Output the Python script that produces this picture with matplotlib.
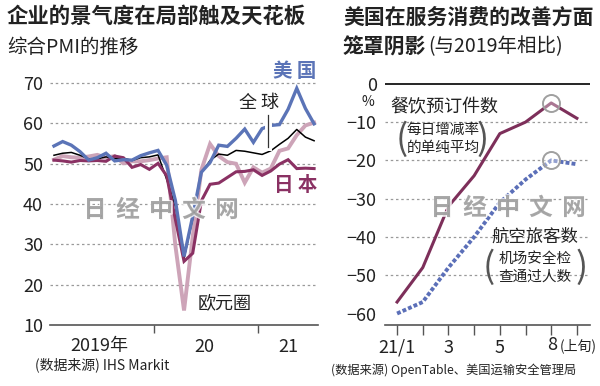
import matplotlib
matplotlib.use('Agg')
import matplotlib.pyplot as plt
import matplotlib.patheffects as pe

plt.rcParams['font.family'] = ['Noto Sans CJK SC', 'DejaVu Sans']

# ---- left chart: composite PMI, 2019/1 - 2021/7 (monthly) ----
months = list(range(31))
us = [54.4, 55.5, 54.6, 53.0, 50.9, 51.5, 52.6, 50.7, 51.0, 50.9, 52.0, 52.7,
      53.3, 49.6, 40.9, 27.0, 37.0, 47.9, 50.3, 54.6, 54.3, 56.3, 58.6, 55.3,
      58.7, 59.5, 59.7, 63.5, 68.7, 63.7, 59.9]
euro = [51.0, 51.9, 51.6, 51.5, 51.8, 52.2, 51.5, 51.9, 50.1, 50.6, 50.6, 50.9,
        51.3, 51.6, 29.7, 13.6, 31.9, 48.5, 54.9, 51.9, 50.4, 50.0, 45.3, 49.1,
        47.8, 48.8, 53.2, 53.8, 57.1, 59.5, 60.2]
japan = [50.9, 50.7, 50.4, 50.8, 50.7, 50.8, 50.6, 51.9, 51.5, 49.1, 49.8, 48.6,
         50.1, 47.0, 36.2, 25.8, 27.8, 40.8, 44.9, 45.2, 46.6, 48.0, 48.1, 48.5,
         47.1, 48.2, 49.9, 51.0, 48.8, 48.9, 48.8]
world = [52.1, 52.6, 52.8, 52.1, 51.2, 51.2, 51.7, 51.3, 51.4, 50.8, 51.5, 51.7,
         52.2, 46.1, 39.4, 26.5, 36.3, 47.7, 50.8, 52.4, 52.1, 53.3, 53.1, 52.7,
         52.3, 53.2, 54.8, 56.3, 58.5, 56.6, 55.7]
year_labels = ['2019年', '20', '21']
year_pos = [5.2, 17.3, 27.0]
year_ticks = [11.5, 23.5]
pmi_ticks = [10, 20, 30, 40, 50, 60, 70]

# ---- right chart: US services vs 2019 (%) ----
svc_months = list(range(8))
svc_labels = ['21/1', '', '3', '', '5', '', '', '']
restaurant = [-57, -48, -32, -24, -13, -10, -5, -9]
airline = [-60, -57, -48, -40, -31, -25, -20, -21]
svc_ticks = [0, -10, -20, -30, -40, -50, -60]

BLUE = '#5b74b7'
EURO = '#cda4b8'
JAPAN = '#8a3163'
PLUM = '#7d2f5a'
DOT = '#5b6fb8'
TXT = '#222222'
GRID = '#9a9a9a'

fig = plt.figure(figsize=(6, 3.86), dpi=100)

##############################################################################################
ax = fig.add_axes([50/600, 61/386, 268/600, 254/386])
ax.set_xlim(-0.46, 30.45)
ax.set_ylim(10, 73)
for v in pmi_ticks[1:]:
    ax.axhline(v, color=GRID, lw=0.9, ls=(0, (2, 2.2)), zorder=1)

ax.plot(months, euro, color=EURO, lw=2.8, zorder=2, solid_joinstyle='miter')
ax.plot(months, world, color='black', lw=1.1, zorder=3)
ax.plot(months, japan, color=JAPAN, lw=2.2, zorder=4, solid_joinstyle='miter')
ax.plot(months, us, color=BLUE, lw=2.4, zorder=5, solid_joinstyle='miter')

# leader line for "全球" with white halo
ax.plot([24.7, 24.7], [62.1, 54.2], color='#333333', lw=0.9, zorder=6,
        path_effects=[pe.withStroke(linewidth=5, foreground='white')])

ax.text(27.8, 72.8, '美 国', color=BLUE, fontsize=14, weight='bold', ha='center', va='center')
ax.text(23.6, 65.1, '全 球', color=TXT, fontsize=13, ha='center', va='center')
ax.text(27.9, 44.7, '日 本', color=JAPAN, fontsize=14, weight='bold', ha='center', va='center')
ax.text(19.7, 15.5, '欧元圈', color=TXT, fontsize=13, ha='center', va='center')

for s in ['top', 'right', 'left']:
    ax.spines[s].set_visible(False)
ax.spines['bottom'].set_color('#555555')
ax.spines['bottom'].set_linewidth(1.2)
ax.set_yticks(pmi_ticks)
ax.tick_params(axis='y', length=0, pad=5, labelsize=13, labelcolor=TXT)
ax.set_xticks(year_ticks)
ax.set_xticklabels(['', ''])
ax.set_xticks(year_pos, minor=True)
ax.set_xticklabels(year_labels, minor=True)
ax.tick_params(axis='x', which='major', length=6, width=1, color='#555555')
ax.tick_params(axis='x', which='minor', length=0, pad=9, labelsize=13, labelcolor=TXT)

##############################################################################################
ax2 = fig.add_axes([385/600, 61/386, 205/600, 245/386])
ax2.set_xlim(-0.47, 7.51)
ax2.set_ylim(-63, 1)
for v in svc_ticks[1:-1]:
    ax2.axhline(v, color=GRID, lw=0.9, ls=(0, (2, 2.2)), zorder=1)
ax2.axhline(0, color='black', lw=1.2, zorder=2)

ax2.plot(svc_months, restaurant, color=PLUM, lw=2.2, zorder=4)
ax2.plot(svc_months, airline, color=DOT, lw=2.8, ls=(0, (1.0, 0.55)), zorder=3)
ax2.scatter([6, 6], [restaurant[6], airline[6]], s=150, facecolors=(1, 1, 1, 0.35),
            edgecolors='#a0a0a0', linewidths=1.4, zorder=5)

ax2.text(-1.13, -4.8, '%', color=TXT, fontsize=10, ha='center', va='center')
ax2.text(1.83, -6.1, '餐饮预订件数', color=TXT, fontsize=13, ha='center', va='center')
ax2.text(1.79, -12.1, '每日增减率', color=TXT, fontsize=10.5, ha='center', va='center')
ax2.text(1.79, -16.8, '的单纯平均', color=TXT, fontsize=10.5, ha='center', va='center')
ax2.text(0.2, -14.6, '(', color='#555555', fontsize=26, ha='center', va='center', weight='light')
ax2.text(3.35, -14.6, ')', color='#555555', fontsize=26, ha='center', va='center', weight='light')
ax2.text(5.37, -40.0, '航空旅客数', color=TXT, fontsize=12.5, ha='center', va='center')
ax2.text(5.37, -45.8, '机场安全检', color=TXT, fontsize=10.5, ha='center', va='center')
ax2.text(5.37, -50.5, '查通过人数', color=TXT, fontsize=10.5, ha='center', va='center')
ax2.text(3.55, -48.0, '(', color='#555555', fontsize=26, ha='center', va='center', weight='light')
ax2.text(7.2, -48.0, ')', color='#555555', fontsize=26, ha='center', va='center', weight='light')

for s in ['top', 'right', 'left']:
    ax2.spines[s].set_visible(False)
ax2.spines['bottom'].set_color('#555555')
ax2.spines['bottom'].set_linewidth(1.2)
ax2.set_yticks(svc_ticks)
ax2.tick_params(axis='y', length=0, pad=6, labelsize=13, labelcolor=TXT)
ax2.set_xticks(svc_months)
ax2.set_xticklabels(svc_labels)
ax2.tick_params(axis='x', length=7, width=1, color='#555555', pad=3, labelsize=13, labelcolor=TXT)
tr = ax2.get_xaxis_transform()
ax2.text(6.02, -0.083, '8', transform=tr, fontsize=13, color=TXT, ha='center', va='center')
ax2.text(6.32, -0.083, '(上旬)', transform=tr, fontsize=10, color=TXT, ha='left', va='center')

##############################################################################################
fig.text(7/600, 1-16/386, '企业的景气度在局部触及天花板', fontsize=15.4, weight='bold', color=TXT, va='center')
fig.text(7/600, 1-47/386, '综合PMI的推移', fontsize=14, color=TXT, va='center')
fig.text(343/600, 1-17/386, '美国在服务消费的改善方面', fontsize=15, weight='bold', color=TXT, va='center')
fig.text(343/600, 1-47/386, '笼罩阴影', fontsize=15, weight='bold', color=TXT, va='center')
fig.text(428/600, 1-47/386, '(与2019年相比)', fontsize=14, color=TXT, va='center')
fig.text(35/600, 1-365/386, '(数据来源) IHS Markit', fontsize=10, color=TXT, va='center')
fig.text(331/600, 1-370/386, '(数据来源) OpenTable、美国运输安全管理局', fontsize=8.8, color=TXT, va='center')

# watermark
wm = '日经中文网'
for x0, y0 in [(95, 210), (442, 208)]:
    for i, ch in enumerate(wm):
        fig.text((x0 + i*33)/600, 1-y0/386, ch, fontsize=17, weight='bold', color='#969696',
                 alpha=0.8, ha='center', va='center', zorder=10,
                 path_effects=[pe.withStroke(linewidth=2, foreground='white')])

fig.savefig('out.png', dpi=100)
